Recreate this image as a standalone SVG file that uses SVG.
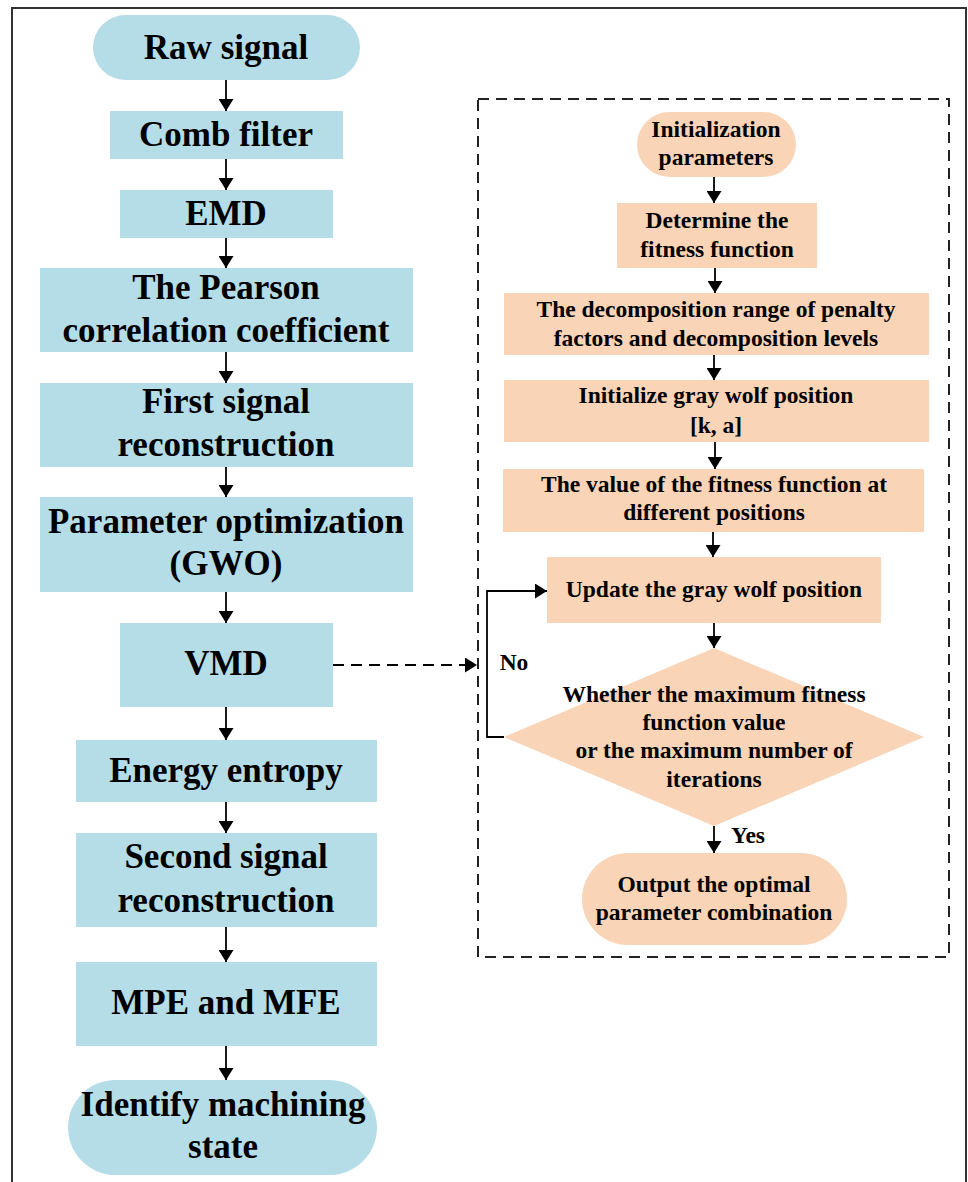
<svg xmlns="http://www.w3.org/2000/svg" width="968" height="1182" viewBox="0 0 968 1182">
<defs>
<style>
.b{fill:#b5dde8}
.o{fill:#f9d4b7}
text{font-family:"Liberation Serif","Times New Roman",serif;font-weight:bold;fill:#000;text-anchor:middle}
.L{font-size:35px}
.R{font-size:23.5px}
.c{stroke:#000;stroke-width:1.8;fill:none}
</style>
<marker id="ah" viewBox="0 0 12 15" refX="12" refY="7.5" markerWidth="12" markerHeight="15" markerUnits="userSpaceOnUse" orient="auto">
<path d="M0,0 L12,7.5 L0,15 Z" fill="#000"/>
</marker>
</defs>
<rect x="0" y="0" width="968" height="1182" fill="#fff"/>
<rect x="12" y="8" width="954" height="1190" fill="none" stroke="#333" stroke-width="2"/>
<rect id="dashbox" x="478" y="99" width="471" height="858" fill="none" stroke="#222" stroke-width="2" stroke-dasharray="11,7"/>

<g id="n_raw"><rect class="b" x="93" y="15" width="267" height="65" rx="32.5"/><text class="L" x="226" y="59">Raw signal</text></g>
<g id="n_comb"><rect class="b" x="110" y="111" width="233" height="48"/><text class="L" x="226" y="146">Comb filter</text></g>
<g id="n_emd"><rect class="b" x="120" y="190" width="213" height="48"/><text class="L" x="226" y="225">EMD</text></g>
<g id="n_pearson"><rect class="b" x="40" y="268" width="373" height="84"/><text class="L" x="226" y="299">The Pearson</text><text class="L" x="226" y="342">correlation coefficient</text></g>
<g id="n_first"><rect class="b" x="40" y="383" width="373" height="84"/><text class="L" x="226" y="413">First signal</text><text class="L" x="226" y="456">reconstruction</text></g>
<g id="n_param"><rect class="b" x="40" y="497" width="373" height="95"/><text class="L" x="226" y="533">Parameter optimization</text><text class="L" x="226" y="575">(GWO)</text></g>
<g id="n_vmd"><rect class="b" x="120" y="623" width="213" height="84"/><text class="L" x="226" y="675">VMD</text></g>
<g id="n_energy"><rect class="b" x="76" y="740" width="301" height="62"/><text class="L" x="226" y="782">Energy entropy</text></g>
<g id="n_second"><rect class="b" x="76" y="833" width="301" height="94"/><text class="L" x="226" y="868">Second signal</text><text class="L" x="226" y="912">reconstruction</text></g>
<g id="n_mpe"><rect class="b" x="76" y="962" width="301" height="84"/><text class="L" x="226" y="1014">MPE and MFE</text></g>
<g id="n_identify"><rect class="b" x="68" y="1080" width="309" height="95" rx="47.5"/><text class="L" x="223" y="1116">Identify machining</text><text class="L" x="223" y="1158">state</text></g>

<g id="n_init"><rect class="o" x="637" y="112" width="159" height="65" rx="32.5"/><text class="R" x="716" y="137">Initialization</text><text class="R" x="716" y="165">parameters</text></g>
<g id="n_determine"><rect class="o" x="617" y="203" width="200" height="65"/><text class="R" x="717" y="228">Determine the</text><text class="R" x="717" y="257">fitness function</text></g>
<g id="n_range"><rect class="o" x="504" y="293" width="425" height="62"/><text class="R" x="716" y="317">The decomposition range of penalty</text><text class="R" x="716" y="346">factors and decomposition levels</text></g>
<g id="n_initwolf"><rect class="o" x="504" y="380" width="425" height="62"/><text class="R" x="716" y="403">Initialize gray wolf position</text><text class="R" x="716" y="433">[k, a]</text></g>
<g id="n_value"><rect class="o" x="503" y="469" width="421" height="63"/><text class="R" x="714" y="492">The value of the fitness function at</text><text class="R" x="714" y="520">different positions</text></g>
<g id="n_update"><rect class="o" x="547" y="557" width="334" height="66"/><text class="R" x="714" y="597">Update the gray wolf position</text></g>
<g id="n_decision"><polygon class="o" points="714,648 924,737 714,826 504,737"/><text class="R" x="714" y="702">Whether the maximum fitness</text><text class="R" x="714" y="730">function value</text><text class="R" x="714" y="758">or the maximum number of</text><text class="R" x="714" y="787">iterations</text></g>
<g id="n_output"><rect class="o" x="582" y="853" width="265" height="92" rx="46"/><text class="R" x="714" y="892">Output the optimal</text><text class="R" x="714" y="920">parameter combination</text></g>

<g id="connectors">
<line class="c" x1="226" y1="80" x2="226" y2="111" marker-end="url(#ah)"/>
<line class="c" x1="226" y1="159" x2="226" y2="190" marker-end="url(#ah)"/>
<line class="c" x1="226" y1="238" x2="226" y2="268" marker-end="url(#ah)"/>
<line class="c" x1="226" y1="352" x2="226" y2="383" marker-end="url(#ah)"/>
<line class="c" x1="226" y1="467" x2="226" y2="497" marker-end="url(#ah)"/>
<line class="c" x1="226" y1="592" x2="226" y2="623" marker-end="url(#ah)"/>
<line class="c" x1="226" y1="707" x2="226" y2="740" marker-end="url(#ah)"/>
<line class="c" x1="226" y1="802" x2="226" y2="833" marker-end="url(#ah)"/>
<line class="c" x1="226" y1="927" x2="226" y2="962" marker-end="url(#ah)"/>
<line class="c" x1="226" y1="1046" x2="226" y2="1080" marker-end="url(#ah)"/>
<line class="c" x1="333" y1="665" x2="477" y2="665" stroke-dasharray="11,7" marker-end="url(#ah)"/>
<line class="c" x1="714" y1="177" x2="714" y2="203" marker-end="url(#ah)"/>
<line class="c" x1="715" y1="268" x2="715" y2="293" marker-end="url(#ah)"/>
<line class="c" x1="714" y1="355" x2="714" y2="380" marker-end="url(#ah)"/>
<line class="c" x1="715" y1="442" x2="715" y2="469" marker-end="url(#ah)"/>
<line class="c" x1="713" y1="532" x2="713" y2="557" marker-end="url(#ah)"/>
<line class="c" x1="714" y1="623" x2="714" y2="648" marker-end="url(#ah)"/>
<polyline class="c" points="504,737 487,737 487,591 547,591" marker-end="url(#ah)"/>
<line class="c" x1="714" y1="826" x2="714" y2="853" marker-end="url(#ah)"/>
<text class="R" x="514" y="670">No</text>
<text class="R" x="748" y="843">Yes</text>
</g>
</svg>
